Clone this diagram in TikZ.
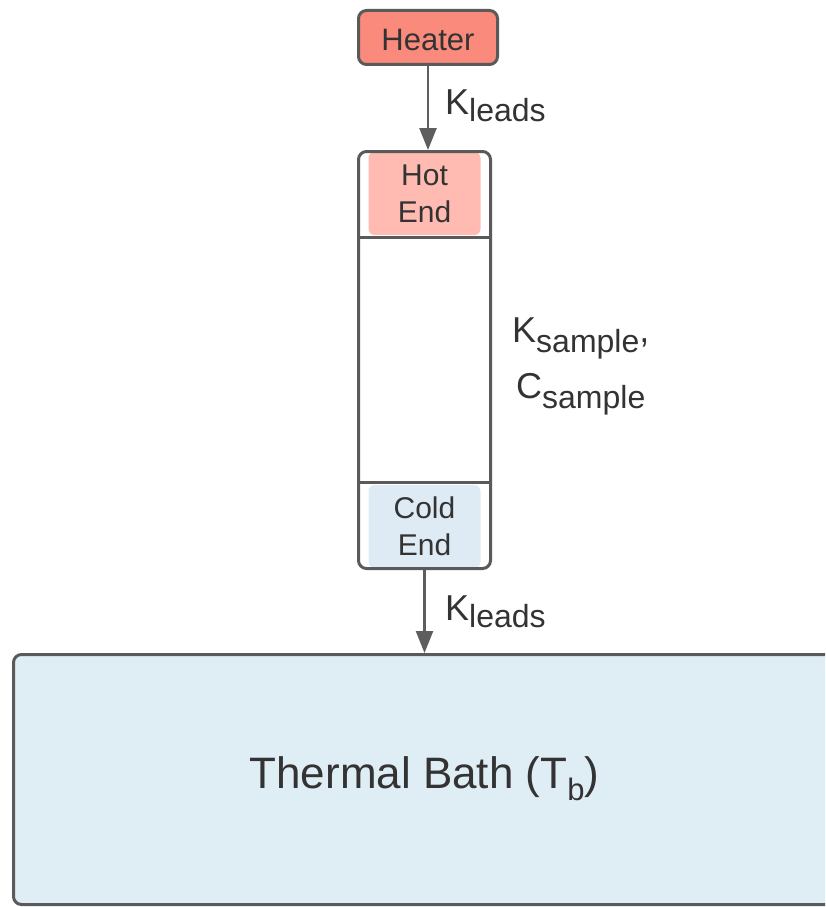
\documentclass[tikz,border=0pt]{standalone}
\usepackage{fontspec}
\setmainfont{Liberation Sans}
\usetikzlibrary{arrows.meta}

\definecolor{edge}{HTML}{5A5A5A}
\definecolor{arrowgray}{HTML}{5E5E5E}
\definecolor{ink}{HTML}{333333}
\definecolor{heaterred}{HTML}{FA8A7C}
\definecolor{hotpink}{HTML}{FFBBB1}
\definecolor{coldblue}{HTML}{DEEBF4}
\definecolor{bathblue}{HTML}{DFEDF5}

% subscript set slightly smaller and lowered below the baseline
\newcommand\lowsub[2]{\raisebox{-#1}{\fontsize{32}{32}\selectfont #2}}

\tikzset{
  box/.style={draw=edge, line width=3pt, rounded corners=8pt, inner sep=0pt},
  endfill/.style={rounded corners=6pt, inner sep=0pt, text=ink, align=center,
    minimum width=112pt, font=\fontsize{30}{37}\selectfont},
  flow/.style={draw=arrowgray, line width=2.5pt, -{Triangle[width=17pt,length=22pt]}},
  lbl/.style={text=ink, inner sep=0pt, font=\fontsize{36}{36}\selectfont},
}

\begin{document}
\begin{tikzpicture}[x=1pt, y=-1pt]
  \useasboundingbox (0,0) rectangle (825,907);
  \clip (0,0) rectangle (825,907);

  % heater block
  \node[box, fill=heaterred, minimum width=139pt, minimum height=54pt,
        text=ink, text height=27pt, text depth=0pt,
        font=\fontsize{31}{31}\selectfont] (heater) at (428,37.5) {Heater};

  % sample column: coloured ends first, outline on top
  \node[endfill, fill=hotpink, minimum height=83pt] (hot) at (424.5,193.5) {Hot\\End};
  \node[endfill, fill=coldblue, minimum height=83pt] (cold) at (424.5,526.5) {Cold\\End};
  \node[box, minimum width=132pt, minimum height=417pt] (sample) at (424.5,360) {};
  \draw[edge, line width=3pt] (sample.west |- 0,237) -- (sample.east |- 0,237);
  \draw[edge, line width=3pt] (sample.west |- 0,482) -- (sample.east |- 0,482);

  % thermal bath
  \node[box, fill=bathblue, minimum width=821pt, minimum height=250pt] (bath) at (424,779.5) {};
  \node[lbl, font=\fontsize{44}{44}\selectfont, anchor=base] (bathtext) at (424.5,788)
        {Thermal Bath (T\raisebox{-12pt}{\fontsize{31}{31}\selectfont b})};

  % heat flow arrows
  \draw[flow] (heater.south) -- (heater.south |- sample.north);
  \draw[flow] (sample.south) -- (sample.south |- bath.north);

  % conductance labels
  \node[lbl, anchor=base west] (kl1) at (445,114) {K\lowsub{7pt}{leads}};
  \node[lbl, anchor=base west] (kl2) at (445,620) {K\lowsub{7pt}{leads}};
  \node[lbl, anchor=base west] (ks) at (512,342) {K\lowsub{10pt}{sample},};
  \node[lbl, anchor=base west] (cs) at (516,398) {C\lowsub{10pt}{sample}};
\end{tikzpicture}
\end{document}
